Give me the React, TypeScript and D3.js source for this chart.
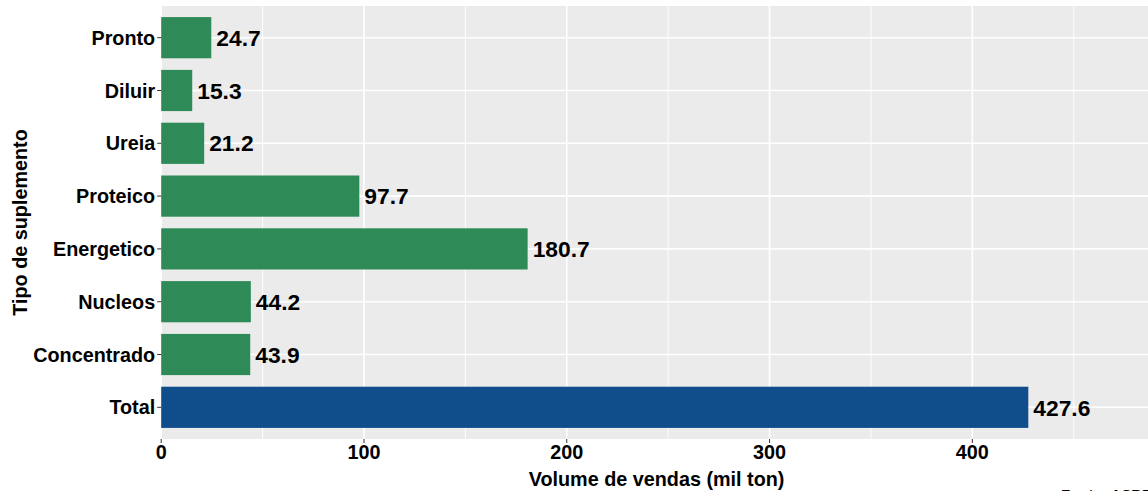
import React from 'react';
import * as d3 from 'd3';

const categories = ['Pronto', 'Diluir', 'Ureia', 'Proteico', 'Energetico', 'Nucleos', 'Concentrado', 'Total'];
const volumes = [24.7, 15.3, 21.2, 97.7, 180.7, 44.2, 43.9, 427.6];
const majorTicks = [0, 100, 200, 300, 400];
const minorTicks = [50, 150, 250, 350, 450];

const width = 1148;
const height = 491;
const panel = { left: 161.2, top: 6, right: 1152, bottom: 439 };
const font = '"Liberation Sans", Arial, Helvetica, sans-serif';

const App: React.FC = () => {
  const x = d3.scaleLinear().domain([0, 488.6]).range([panel.left, panel.right]);
  // ggplot discrete scale: 0.6 unit padding each side, bar width ~0.8
  const unit = (panel.bottom - panel.top) / (categories.length - 1 + 1.2);
  const y = (i: number) => panel.top + (0.6 + i) * unit;
  const barH = unit * 0.78;

  return (
    <div style={{ position: 'fixed', left: 0, top: 0 }}>
      <svg width={width} height={height} viewBox={`0 0 ${width} ${height}`} style={{ display: 'block', fontFamily: font }}>
        <rect x={0} y={0} width={width} height={height} fill="white" />
        <rect x={panel.left} y={panel.top} width={panel.right - panel.left} height={panel.bottom - panel.top} fill="#EBEBEB" />

        <g className="grid">
          {minorTicks.map(t => (
            <line key={`mn-${t}`} x1={x(t)} x2={x(t)} y1={panel.top} y2={panel.bottom} stroke="white" strokeWidth={0.9} />
          ))}
          {majorTicks.map(t => (
            <line key={`mj-${t}`} x1={x(t)} x2={x(t)} y1={panel.top} y2={panel.bottom} stroke="white" strokeWidth={1.6} />
          ))}
          {categories.map((c, i) => (
            <line key={`h-${c}`} x1={panel.left} x2={panel.right} y1={y(i)} y2={y(i)} stroke="white" strokeWidth={1.6} />
          ))}
        </g>

        <g className="bars">
          {categories.map((c, i) => (
            <rect
              key={c}
              x={x(0)}
              y={y(i) - barH / 2}
              width={x(volumes[i]) - x(0)}
              height={barH}
              fill={c === 'Total' ? '#104E8B' : '#2E8B57'}
            />
          ))}
        </g>

        <g className="labels" fontSize={22.8} fontWeight="bold" fill="black">
          {categories.map((c, i) => (
            <text key={`l-${c}`} x={x(volumes[i]) + 5} y={y(i) + 8.2}>
              {volumes[i].toFixed(1)}
            </text>
          ))}
        </g>

        <g className="y-axis" fontSize={19.8} fontWeight="bold" fill="black">
          {categories.map((c, i) => (
            <g key={`y-${c}`}>
              <line x1={panel.left - 4} x2={panel.left} y1={y(i)} y2={y(i)} stroke="#333333" strokeWidth={1} />
              <text x={panel.left - 6} y={y(i) + 7.1} textAnchor="end">{c}</text>
            </g>
          ))}
        </g>

        <g className="x-axis" fontSize={19.8} fontWeight="bold" fill="black">
          {majorTicks.map(t => (
            <g key={`x-${t}`}>
              <line x1={x(t)} x2={x(t)} y1={panel.bottom} y2={panel.bottom + 4} stroke="#333333" strokeWidth={1} />
              <text x={x(t)} y={458.5} textAnchor="middle">{t}</text>
            </g>
          ))}
        </g>

        <text x={(panel.left + panel.right) / 2} y={486} textAnchor="middle" fontSize={19.8} fontWeight="bold" fill="black">
          Volume de vendas (mil ton)
        </text>
        <text
          transform={`translate(27, ${(panel.top + panel.bottom) / 2}) rotate(-90)`}
          textAnchor="middle"
          fontSize={19.8}
          fontWeight="bold"
          fill="black"
        >
          Tipo de suplemento
        </text>

        <text x={1061} y={499.5} fontSize={15} fontWeight="bold" fill="black">Fonte: ASBRAM</text>
      </svg>
    </div>
  );
};

export default App;
